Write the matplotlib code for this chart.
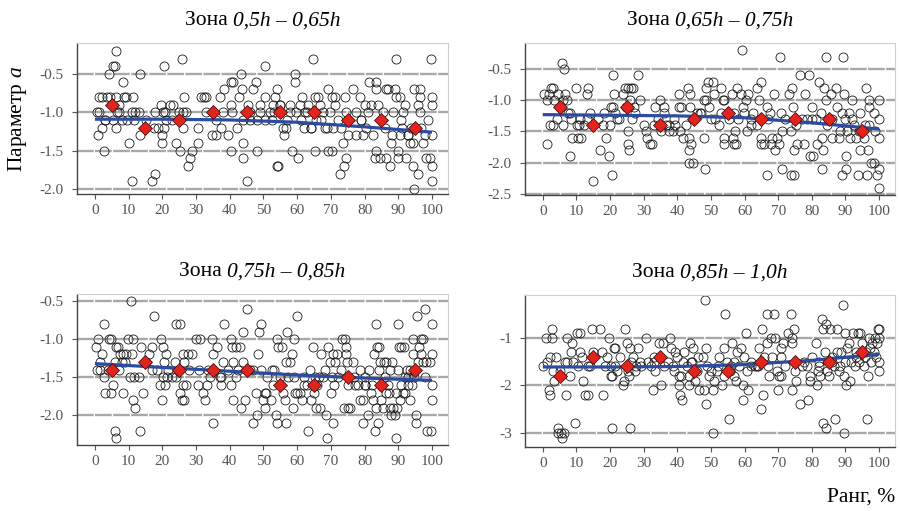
import matplotlib
matplotlib.use("Agg")
import matplotlib.pyplot as plt
from matplotlib.transforms import offset_copy

plt.rcParams["font.family"] = "Liberation Serif"
plt.rcParams["mathtext.fontset"] = "custom"
plt.rcParams["mathtext.rm"] = "Liberation Serif"
plt.rcParams["mathtext.it"] = "Liberation Serif:italic"
plt.rcParams["axes.unicode_minus"] = False
plt.rcParams["lines.scale_dashes"] = False

# decile ranks for the mean markers
dec_x = [5, 15, 25, 35, 45, 55, 65, 75, 85, 95]

zones = ["0,5h – 0,65h", "0,65h – 0,75h", "0,75h – 0,85h", "0,85h – 1,0h"]

# ---- zone 0.5h - 0.65h
pts1 = [(0.5,-1.0),(1.2,-1.0),(0.8,-1.3),(1.2,-0.8),(2,-0.8),(3.5,-0.8),(2,-1.2),(2.8,-1.5),(3,-1.1),
        (4.1,-0.5),(4.5,-0.8),(5.4,-0.4),(6,-0.4),(6.2,-0.2),(6.4,-0.8),(6.2,-1.2),(5.4,-1.1),(6.7,-1.0),
        (7.2,-1.0),(7.2,-0.9),(8.3,-0.6),(8.7,-0.8),(9.2,-0.8),(9.4,-1.1),(10.2,-1.4),(10.9,-1.0),(11,-1.9),
        (11.3,-0.8),(11.7,-1.1),(13.5,-0.5),(13.5,-1.3),(13.1,-1.0),(14.8,-1.2),(15.3,-1.1),(16.8,-1.9),
        (17.5,-1.2),(17.8,-1.8),(17.8,-1.0),(18.8,-1.2),(19.6,-0.9),(19.8,-1.4),(20,-1.3),(20.3,-1.0),
        (20.8,-1.0),(20.6,-0.4),(20.6,-1.2),(21.2,-1.1),(22.4,-0.9),(23.2,-0.9),(24.2,-1.4),(24.9,-1.0),
        (25.2,-1.5),(25.7,-0.3),(26,-1.0),(26.2,-1.2),(26.5,-0.8),(27.5,-1.7),(28.2,-1.6),(28.7,-1.5),
        (30.6,-1.2),(30.6,-1.4),(31.4,-0.8),(32.3,-0.8),(33.1,-0.8),(33.1,-1.0),(34.8,-1.3),(36,-1.3),
        (37,-0.8),(37.5,-1.2),(38.2,-0.7),(39.5,-1.3),(40.5,-0.6),(41,-0.6),(40.5,-0.9),(40.5,-1.5),
        (40.7,-1.0),(42.2,-1.2),(42.8,-0.8),(43.3,-0.5),(43.5,-0.7),(43.8,-1.4),(44,-1.6),(45,-1.9),
        (45.5,-0.9),(46.1,-1.1),(46.9,-0.7),(47.9,-0.6),(48.2,-1.5),(48.9,-0.9),(48.9,-1.0),(50.4,-1.1),
        (50.4,-0.8),(50.6,-0.4),(51.9,-1.0),(52.4,-1.1),(52.9,-0.9),(53.4,-0.8),(53.9,-0.7),(53.9,-1.7),
        (54.2,-1.7),(54.8,-0.9),(55.8,-1.2),(56.1,-1.3),(56.8,-1.2),(57.8,-0.9),(58.6,-1.5),(59.3,-0.6),
        (59.5,-0.5),(59.8,-1.0),(60.3,-1.6),(60.8,-0.9),(61.3,-0.8),(62.3,-1.0),(63.2,-0.9),(64.2,-1.2),
        (64.7,-0.3),(65.2,-0.8),(65.2,-1.5),(65.7,-1.1),(66.2,-0.8),(66.7,-0.9),(67.7,-1.0),(68.2,-1.2),
        (69.2,-0.7),(69.2,-1.5),(70.2,-1.5),(69.7,-1.0),(70.2,-0.8),(71.1,-0.8),(70.7,-1.2),(71.1,-0.9),
        (72.6,-1.8),(73.1,-1.2),(73.6,-1.4),(73.9,-1.7),(74.1,-0.8),(74.6,-1.0),(74.6,-1.6),(75.1,-1.3),
        (76.6,-0.7),(77.6,-1.0),(77.6,-1.3),(78.6,-0.8),(79,-1.1),(79.5,-1.3),(80,-0.9),(80.5,-1.2),
        (81.4,-0.6),(82,-0.9),(82.5,-1.3),(83,-1.6),(83.3,-0.7),(83.5,-0.6),(83.5,-1.5),(84,-0.9),
        (84.5,-1.6),(85.5,-1.0),(86.4,-0.7),(87,-0.7),(86.4,-1.6),(87.4,-1.7),(87.9,-1.4),(88.4,-1.0),
        (88.9,-0.7),(89.4,-0.3),(89.4,-0.8),(90.4,-0.8),(89.9,-1.5),(89.9,-1.6),(90.4,-1.3),(90.9,-1.1),
        (91.4,-1.0),(91.9,-0.9),(92.2,-1.6),(92.9,-1.3),(93.4,-1.4),(93.9,-1.2),(94.4,-1.4),(94.4,-1.7),
        (94.7,-0.7),(94.8,-2.0),(95.8,-1.8),(95.8,-0.9),(96.3,-0.7),(96.3,-1.0),(96.5,-0.8),(96.8,-1.2),
        (97.3,-1.4),(97.8,-1.3),(98.3,-1.6),(98.8,-1.1),(99.3,-1.6),(99.8,-0.3),(100,-0.8),(100,-0.9),
        (100,-1.7),(100,-1.9),(100,-1.3),
        (58,-1.0),(61,-1.1),(63,-1.0),(64,-1.2),(67,-1.1),(69,-1.2),(72,-1.1),(79,-1.1),(81,-1.0),
        (86,-1.2),(88,-1.3),(91,-1.2),(93,-1.3),(62,-1.2),(53,-1.0),(55,-0.9),(57,-1.1),(44,-1.1),
        (46,-1.0),(48,-1.1),(38,-1.0),(36,-1.1),(12,-1.0),(8,-1.1),(23,-1.1),(27,-1.0),(3,-1.1)]
mean1 = [-0.9, -1.2, -1.1, -1.0, -1.0, -1.0, -1.0, -1.1, -1.1, -1.2]
trend1_x = [0, 20, 40, 60, 80, 100]
trend1_y = [-1.09, -1.09, -1.10, -1.13, -1.19, -1.26]

# ---- zone 0.65h - 0.75h
pts2 = [(0.5,-0.9),(1.2,-1.7),(1.2,-1.0),(1.7,-0.9),(2.2,-1.4),(3,-1.4),(2.5,-0.8),(3,-0.8),(3.2,-1.0),
        (4.1,-1.3),(4.4,-0.9),(5.6,-0.4),(6.1,-1.0),(6.4,-0.5),(6.6,-0.9),(7.1,-1.0),(6.1,-1.4),(7.4,-1.2),
        (8.1,-1.9),(8.4,-1.3),(8.8,-1.6),(9.8,-0.8),(10.1,-1.4),(10.8,-1.4),(10.6,-1.6),(11.3,-1.6),
        (11.1,-1.3),(12.4,-1.4),(13,-0.9),(13.5,-0.8),(14,-1.2),(15,-2.3),(16.5,-1.3),(17,-1.8),(18,-1.4),
        (18.3,-1.2),(18.7,-1.6),(19.7,-1.9),(19.9,-1.4),(20.4,-1.1),(20.9,-1.1),(20.7,-2.2),(20.9,-0.6),
        (21.1,-0.9),(21.4,-1.2),(22.7,-1.3),(23.9,-0.9),(24.4,-0.8),(25.4,-0.8),(24.6,-1.1),(25.4,-1.5),
        (25.4,-1.7),(25.7,-1.8),(26,-1.0),(26.3,-0.8),(26.8,-0.8),(26.6,-1.3),(27.3,-1.2),(28.3,-0.6),
        (29,-1.0),(30.6,-1.5),(31,-1.6),(32,-1.7),(32.5,-1.7),(33.2,-1.4),(33.4,-1.1),(34.2,-1.3),(34.9,-1.0),
        (35.2,-1.5),(35.9,-1.1),(36.6,-1.4),(37.6,-1.4),(37.6,-1.5),(38.6,-1.5),(39.3,-1.4),(40.4,-0.9),
        (40.6,-1.1),(41.1,-1.1),(40.9,-1.5),(41.6,-1.6),(42.6,-1.4),(43.3,-0.8),(43.4,-1.6),(43.4,-1.8),
        (43.4,-2.0),(44.8,-2.0),(43.9,-0.9),(43.9,-1.1),(44.1,-1.7),(46,-1.2),(46.8,-1.2),(47.8,-1.6),
        (48.3,-2.1),(48,-1.0),(48.5,-1.0),(48.5,-0.8),(49.2,-0.7),(50.5,-0.7),(49.5,-1.1),(50,-1.3),
        (51,-0.9),(51.3,-1.3),(52.5,-1.4),(53,-0.8),(53.5,-1.0),(54,-1.0),(54,-1.6),(54,-1.7),(55.4,-1.3),
        (56.2,-0.9),(56.7,-1.6),(56.9,-1.7),(57.4,-1.7),(57.1,-1.5),(57.7,-0.8),(58.9,-0.9),(59.2,-0.2),
        (59.4,-1.1),(59.9,-1.2),(60.4,-1.0),(60.7,-1.5),(61.1,-0.9),(61.8,-1.4),(62.5,-1.2),(63.8,-1.4),
        (63.8,-0.8),(64.3,-1.0),(64.8,-0.7),(64.8,-1.6),(65,-1.7),(65.8,-1.7),(66.6,-1.1),(66.8,-2.2),
        (67.6,-1.2),(68,-1.7),(68.2,-1.6),(68.9,-0.9),(69.2,-1.8),(69.7,-1.6),(70.2,-1.7),(70.5,-0.3),
        (70.7,-1.2),(71,-2.1),(71.2,-1.5),(73.2,-0.9),(73.7,-1.5),(73.7,-2.2),(74.7,-2.2),(74.2,-0.8),
        (74.5,-1.1),(74.7,-1.8),(75.2,-1.4),(75.6,-1.7),(76.6,-0.6),(77.6,-1.7),(78.1,-0.9),(78.6,-1.3),
        (79.1,-0.6),(79.4,-1.9),(80.4,-1.9),(80.1,-1.1),(81.1,-1.3),(81.6,-1.7),(82.1,-0.7),(82.6,-1.2),
        (82.9,-2.1),(83.1,-1.6),(83.4,-1.8),(83.6,-0.8),(84.1,-0.3),(84.1,-1.0),(84.4,-1.4),(85.6,-0.9),
        (86.1,-1.6),(87.1,-0.8),(87.6,-1.1),(88,-1.6),(88.5,-1.5),(88.9,-2.2),(89.3,-0.3),(89.5,-0.9),
        (90,-1.3),(90.3,-2.1),(90.3,-1.9),(90.5,-1.5),(91,-1.2),(91.4,-1.6),(91.9,-1.0),(92.6,-1.4),
        (93.2,-1.6),(93.6,-2.2),(94.2,-1.8),(94.4,-1.2),(95.4,-1.6),(95.9,-1.4),(96.2,-0.8),(96.4,-2.2),
        (96.6,-1.8),(96.9,-1.1),(96.9,-1.0),(97.6,-2.0),(98.4,-2.0),(98.4,-1.2),(98.9,-1.5),(99.4,-2.2),
        (99.9,-1.3),(99.9,-2.4),(100,-1.0),(100,-1.6),(99.9,-2.1),
        (22,-1.3),(27,-1.1),(36,-1.2),(45,-1.3),(47,-1.2),(53,-1.2),(58,-1.3),(62,-1.3),(67,-1.3),
        (72,-1.3),(77,-1.3),(80,-1.3),(86,-1.3),(89,-1.2),(92,-1.3),(94,-1.5),(97,-1.4),(8,-1.2),
        (13,-1.3),(30,-1.4),(39,-1.3),(57,-1.2)]
mean2 = [-1.1, -1.4, -1.1, -1.4, -1.3, -1.2, -1.3, -1.3, -1.3, -1.5]
trend2_x = [0, 20, 40, 60, 80, 100]
trend2_y = [-1.23, -1.24, -1.25, -1.28, -1.36, -1.46]

# ---- zone 0.75h - 0.85h
pts3 = [(0.3,-1.1),(0.7,-1.4),(1.5,-1.4),(1,-1.0),(1.5,-1.3),(2,-1.2),(2.7,-0.8),(2.7,-1.5),(3,-1.7),
        (4,-1.4),(4.3,-1.0),(4.9,-1.0),(4.7,-1.7),(5.4,-1.6),(5.9,-1.3),(5.9,-2.2),(6.2,-2.3),(6.4,-1.1),
        (6.9,-1.1),(7.1,-1.4),(7.4,-1.2),(7.9,-1.3),(8.4,-1.7),(8.4,-1.2),(9.2,-1.2),(9.9,-1.0),(10.4,-1.5),
        (10.7,-0.5),(10.9,-1.2),(11.2,-1.0),(11.4,-1.8),(11.6,-1.5),(11.9,-1.9),(13.1,-1.5),(13.5,-2.2),
        (13.8,-1.1),(14.3,-1.7),(15.3,-1.3),(16.1,-1.2),(16.8,-1.1),(17.6,-0.7),(18.3,-1.4),(19.3,-1.6),
        (19.6,-1.0),(19.8,-1.8),(20.1,-1.1),(20.3,-1.5),(20.6,-1.3),(20.8,-1.6),(21.1,-1.2),(21.3,-1.5),
        (21.8,-1.4),(23.7,-1.3),(24,-0.8),(25.2,-0.8),(24.2,-1.5),(24.9,-1.4),(25.2,-1.7),(25.7,-1.8),
        (26.5,-1.8),(26,-1.6),(26.2,-1.2),(26.5,-1.3),(27,-1.6),(27.7,-1.2),(28.7,-1.2),(30.1,-1.0),
        (31.1,-1.0),(30.6,-1.6),(32.1,-1.7),(32.6,-1.8),(33.3,-1.6),(33.6,-1.4),(34.8,-1.0),(35.1,-2.1),
        (35.1,-1.2),(36.1,-1.1),(37,-1.5),(37.5,-1.5),(37.5,-1.6),(38,-1.3),(38.2,-0.8),(39.5,-1.4),
        (40.3,-1.0),(40.5,-1.6),(40.8,-1.1),(41,-1.3),(41,-1.8),(42,-1.1),(43,-1.1),(42.5,-1.4),(43.3,-1.9),
        (43.8,-0.9),(44,-1.3),(44.5,-1.8),(45,-0.6),(45.9,-1.4),(46.9,-2.1),(47.7,-1.7),(48.1,-2.0),
        (48.4,-1.2),(48.7,-0.9),(49.4,-0.8),(49.4,-1.4),(49.9,-1.8),(50.4,-1.7),(50.9,-1.7),(50.6,-1.9),
        (52.1,-1.8),(52.4,-1.4),(53.1,-1.4),(52.7,-1.6),(53.7,-2.0),(53.9,-1.0),(54.1,-2.1),(54.4,-1.1),
        (55.6,-1.1),(55.8,-1.7),(56.3,-1.8),(56.6,-1.3),(56.8,-2.1),(57,-0.9),(57.3,-1.5),(57.8,-1.3),
        (58.6,-1.2),(58.8,-1.9),(59.1,-1.0),(59.3,-1.7),(60.1,-1.7),(60.1,-0.7),(60.8,-1.7),(61.3,-1.8),
        (62,-1.6),(63,-1.6),(63.2,-2.2),(63.7,-1.4),(64.2,-1.8),(64.7,-1.1),(64.9,-1.7),(65.4,-1.5),
        (65.7,-1.9),(66.7,-1.9),(66.5,-1.5),(67.2,-1.2),(67.7,-1.5),(68.2,-1.4),(68.7,-2.0),(69,-2.3),
        (69.2,-1.1),(69.7,-1.3),(70,-1.7),(70.2,-1.5),(70.5,-1.2),(70.5,-2.1),(70.9,-1.6),(71.2,-1.3),
        (71.7,-1.2),(73.1,-1.4),(73.4,-1.0),(74.1,-1.0),(73.9,-1.9),(74.4,-1.2),(74.6,-1.1),(74.9,-1.3),
        (75.1,-1.6),(75.1,-1.9),(75.6,-1.9),(76.6,-1.3),(77.1,-1.6),(78.1,-1.6),(78.6,-1.4),(78.6,-1.8),
        (79.5,-1.8),(79.5,-2.1),(80,-1.5),(80,-1.6),(81,-2.0),(81.3,-1.4),(82,-1.7),(82.3,-1.6),(82.5,-1.8),
        (82.8,-1.2),(83,-2.2),(83.3,-0.8),(83.5,-1.9),(83.7,-1.1),(84.2,-1.1),(84,-2.1),(84.3,-1.4),
        (84.5,-1.3),(85,-1.8),(85.5,-1.9),(85.7,-1.3),(86.3,-1.3),(86.4,-1.7),(87.2,-1.7),(86.9,-1.6),
        (87.4,-1.4),(87.6,-1.9),(88.4,-1.9),(87.9,-2.0),(88.9,-2.0),(88.2,-1.3),(89.2,-2.3),(89.4,-1.7),
        (89.6,-1.9),(89.9,-0.8),(89.9,-1.4),(90.1,-1.1),(90.9,-1.1),(91.6,-1.1),(90.4,-1.8),(90.9,-1.6),
        (91.4,-1.7),(91.9,-1.7),(91.9,-1.5),(92.6,-1.4),(93.4,-1.4),(92.9,-1.6),(93.6,-1.8),(94,-1.6),
        (94.4,-1.0),(94.4,-1.2),(94.7,-1.5),(95.2,-2.1),(95.4,-2.0),(95.6,-0.7),(95.9,-1.3),(96.2,-1.1),
        (96.6,-1.0),(97.2,-1.0),(96.7,-1.2),(97.3,-1.3),(98.3,-1.3),(97.8,-0.6),(98.6,-2.2),(99.8,-2.2),
        (99.3,-1.3),(100,-0.8),(100,-1.2),(100,-1.6),(100,-1.8),
        (9,-1.3),(17,-1.4),(23,-1.5),(28,-1.4),(31,-1.4),(34,-1.5),(42,-1.5),(47,-1.4),(51,-1.5),
        (55,-1.5),(59,-1.5),(62,-1.5),(66,-1.6),(72,-1.5),(77,-1.5),(80,-1.6),(86,-1.5),(93,-1.5),(98,-1.5)]
mean3 = [-1.4, -1.3, -1.4, -1.4, -1.4, -1.6, -1.6, -1.5, -1.6, -1.4]
trend3_x = [0, 20, 40, 60, 80, 100]
trend3_y = [-1.32, -1.37, -1.42, -1.47, -1.51, -1.54]

# ---- zone 0.85h - 1.0h
pts4 = [(0.2,-1.6),(1,-1.0),(1.2,-1.5),(1.7,-2.1),(2.2,-2.2),(2,-1.4),(2.7,-0.8),(2.7,-1.0),(3.2,-1.9),
        (4,-1.4),(4.5,-2.9),(4.6,-3.0),(5.4,-3.0),(5.6,-3.1),(5.1,-1.7),(6.4,-3.0),(6.6,-1.5),(7.1,-1.5),
        (6.8,-2.2),(7.3,-1.0),(8.1,-1.8),(8.4,-1.3),(8.8,-1.1),(9.6,-2.8),(10.1,-0.9),(11.1,-0.9),
        (10.6,-1.6),(11.1,-1.3),(11.6,-1.4),(12.1,-1.9),(12.5,-2.2),(13.5,-2.2),(13.5,-1.6),(14.5,-0.8),
        (15,-1.3),(17,-0.8),(17.5,-1.3),(18,-2.2),(18.5,-1.6),(19,-1.4),(19.7,-1.0),(20.2,-1.8),(20.7,-1.8),
        (20.4,-1.6),(20.7,-2.9),(21.1,-1.2),(21.4,-1.6),(21.6,-1.2),(22.9,-1.4),(23.9,-2.0),(24.2,-1.9),
        (24.4,-0.8),(25.1,-1.1),(25.3,-1.7),(25.6,-1.8),(25.8,-2.9),(26,-1.2),(26.3,-1.5),(26.8,-1.4),
        (27.3,-1.7),(27.8,-1.6),(28.3,-1.2),(29.3,-1.6),(30.8,-1.0),(31.3,-1.5),(32.2,-1.6),(32.7,-2.1),
        (33.2,-1.4),(33.5,-1.7),(35.2,-2.0),(34.7,-1.1),(35.7,-1.1),(37.2,-1.5),(37.7,-1.0),(38.2,-1.2),
        (38.7,-1.6),(39.2,-1.3),(40,-1.4),(40.6,-1.8),(41.1,-1.8),(40.6,-2.0),(40.9,-2.2),(41.4,-2.3),
        (41.6,-1.5),(42.1,-1.3),(42.9,-1.6),(43.4,-1.8),(43.6,-2.0),(43.9,-1.1),(44.3,-1.5),(44.8,-1.2),
        (45.4,-1.9),(46.1,-1.4),(46.5,-2.1),(47.5,-1.4),(47.8,-2.1),(48.2,-0.2),(48.5,-2.4),(48.6,-1.2),
        (48.9,-1.6),(49.5,-1.8),(50,-1.7),(50.5,-2.1),(50.6,-3.0),(50.9,-1.9),(51.9,-1.7),(52.4,-1.4),
        (53.2,-2.0),(53.8,-1.8),(54,-1.2),(54.1,-0.5),(54.9,-1.5),(55.4,-2.7),(55.7,-1.7),(56.4,-1.1),
        (56.9,-1.8),(57.4,-1.9),(57.9,-1.3),(58.4,-1.6),(58.9,-1.2),(59.4,-2.0),(59.4,-2.3),(59.9,-1.4),
        (60.4,-0.9),(60.7,-1.7),(61.1,-2.1),(61.8,-1.5),(63,-1.6),(63.8,-1.6),(64.3,-1.2),(64.8,-2.5),
        (65.3,-0.8),(65.6,-2.2),(65.8,-1.4),(66.6,-0.5),(66.8,-1.1),(67.3,-1.8),(67.8,-1.0),(68.3,-1.4),
        (68.8,-0.5),(69,-1.0),(69.6,-1.7),(70,-2.1),(70.2,-1.8),(70.9,-1.8),(70.7,-1.2),(70.9,-1.4),
        (71.5,-1.1),(73,-0.9),(73.7,-0.5),(74,-1.1),(74.2,-1.0),(74.2,-2.1),(74.7,-0.8),(74.9,-1.7),
        (75.2,-1.9),(76.4,-2.4),(77.6,-1.5),(78.6,-1.6),(78.9,-2.3),(79.4,-1.8),(79.6,-1.9),(80.1,-1.4),
        (81.1,-1.1),(81.4,-2.0),(81.8,-1.7),(82.1,-1.5),(82.5,-1.8),(83.1,-0.6),(83.3,-0.8),(83.4,-2.8),
        (83.8,-1.3),(84.2,-0.7),(84.2,-2.9),(84.5,-1.7),(85,-1.8),(85.5,-0.8),(86,-1.5),(86.7,-1.6),
        (87,-2.7),(87.5,-0.8),(87.5,-1.3),(88,-1.7),(88.3,-1.6),(88.7,-1.3),(89.3,-0.3),(89.5,-3.0),
        (89.7,-1.8),(90,-0.9),(90.3,-2.0),(90.5,-1.2),(91,-1.1),(91.3,-1.9),(91.8,-1.5),(92.2,-0.9),
        (92.8,-1.6),(93.2,-1.4),(93.6,-0.9),(94.4,-0.9),(94.1,-1.5),(94.9,-1.1),(95.4,-1.6),(95.9,-1.4),
        (96.4,-2.7),(96.6,-1.8),(96.9,-1.0),(97.2,-1.2),(97.6,-1.5),(97.9,-1.1),(98.4,-1.3),(98.9,-1.0),
        (99.4,-1.1),(99.6,-0.8),(100,-0.8),(100,-1.5),(100,-1.7),(100,-1.0),
        (3,-1.7),(9,-1.5),(14,-1.6),(22,-1.7),(29,-1.5),(36,-1.6),(39,-1.7),(46,-1.7),(52,-1.6),
        (57,-1.5),(62,-1.6),(67,-1.6),(72,-1.6),(77,-1.6),(82,-1.6),(86,-1.4),(90,-1.5),(93,-1.3),
        (96,-1.3),(99,-1.4),(64,-1.6),(56,-1.6),(44,-1.5),(33,-1.5)]
mean4 = [-1.8, -1.4, -1.6, -1.4, -1.7, -1.7, -1.5, -1.5, -1.5, -1.3]
trend4_x = [0, 20, 40, 60, 80, 100]
trend4_y = [-1.61, -1.61, -1.60, -1.56, -1.47, -1.34]

panels = [
    (pts1, mean1, trend1_x, trend1_y, [-2.0, -1.5, -1.0, -0.5], (-2.07, -0.10), "%.1f"),
    (pts2, mean2, trend2_x, trend2_y, [-2.5, -2.0, -1.5, -1.0, -0.5], (-2.52, -0.09), "%.1f"),
    (pts3, mean3, trend3_x, trend3_y, [-2.0, -1.5, -1.0, -0.5], (-2.39, -0.41), "%.1f"),
    (pts4, mean4, trend4_x, trend4_y, [-3, -2, -1], (-3.30, -0.10), "%d"),
]

# axes rectangles in figure fractions
rects = [[0.0856, 0.620, 0.412, 0.295],
         [0.5833, 0.618, 0.411, 0.297],
         [0.0856, 0.129, 0.412, 0.295],
         [0.5833, 0.125, 0.411, 0.297]]

fig = plt.figure(figsize=(9, 5.11), dpi=100)
tick_col = "#555555"
title_parts = []

for i, (pts, mean, tx, ty, yt, ylim, fmt) in enumerate(panels):
    ax = fig.add_axes(rects[i])
    xs = [p[0] for p in pts]
    ys = [p[1] for p in pts]
    for y in yt:
        ax.axhline(y, color="#a8a8a8", lw=1.7, dashes=(12, 1.0), zorder=0)
    ax.plot(xs, ys, "o", ms=6.5, mfc="none", mec="#1a1a1a", mew=0.6, zorder=2)
    ax.plot(tx, ty, color="#2c4ca3", lw=2.3, solid_capstyle="butt", zorder=3)
    ax.plot(dec_x, mean, "D", ms=7.6, mfc="#e3241d", mec="#4a1010", mew=0.6, zorder=4)
    ax.set_xlim(-5.3, 104.7)
    ax.set_ylim(*ylim)
    ax.set_xticks(range(0, 101, 10))
    ax.set_yticks(yt)
    ax.set_yticklabels([fmt % v for v in yt])
    ax.tick_params(axis="both", colors=tick_col, labelcolor=tick_col,
                   labelsize=11, length=3.5, width=0.8)
    ax.tick_params(axis="y", pad=6)
    for s in ["left", "bottom"]:
        ax.spines[s].set_color("#444444")
        ax.spines[s].set_linewidth(1.0)
    for s in ["top", "right"]:
        ax.spines[s].set_color("#cfcfcf")
        ax.spines[s].set_linewidth(0.8)

    # title: plain "Зона" + italic zone bounds
    tr = offset_copy(ax.transAxes, fig=fig, x=0, y=9.5, units="points")
    t1 = ax.text(0.3, 1.0, "Зона ", transform=tr, ha="left", va="bottom", fontsize=15.5)
    t2 = ax.annotate(zones[i], xy=(1, 0), xycoords=t1, ha="left", va="bottom",
                     fontsize=15.5, fontstyle="italic")
    title_parts.append((ax, t1, t2))

    if i == 0:
        ax.set_ylabel("Параметр $\\mathit{a}$", fontsize=15.5, labelpad=8)

fig.text(0.995, 0.027, "Ранг, %", fontsize=15.5, ha="right", va="center")

# centre the two-part titles over their panels
fig.canvas.draw()
r = fig.canvas.get_renderer()
for ax, t1, t2 in title_parts:
    w = t1.get_window_extent(r).width + t2.get_window_extent(r).width
    axw = ax.get_window_extent(r).width
    t1.set_x(0.5 - w / 2 / axw)

fig.savefig("out.png", dpi=100)
